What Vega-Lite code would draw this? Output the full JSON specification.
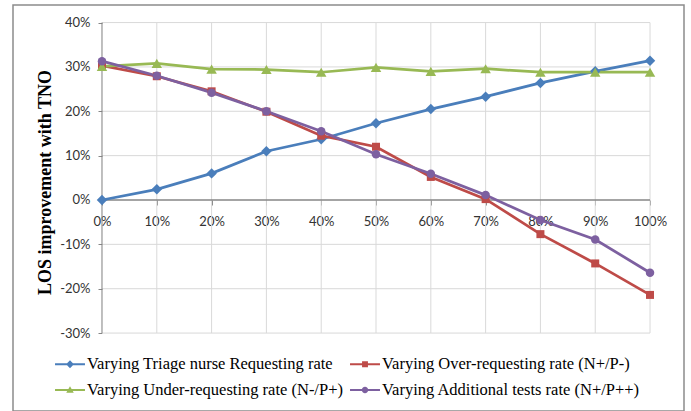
{
  "$schema": "https://vega.github.io/schema/vega-lite/v6.json",
  "autosize": {"type": "none"},
  "padding": {"left": 13, "top": 5, "right": 7, "bottom": 0},
  "width": 671,
  "height": 406,
  "background": "white",
  "config": {
    "view": {"stroke": "#8c8c8c", "strokeWidth": 1.5},
    "axis": {"labelFont": "Lato", "labelFontSize": 13, "labelColor": "#333333"}
  },
  "layer": [
    {
      "data": {"values": [{"g": 10}, {"g": 20}, {"g": 30}, {"g": 40}, {"g": 50}, {"g": 60}, {"g": 70}, {"g": 80}, {"g": 90}, {"g": 100}]},
      "mark": {"type": "rule", "color": "#d9d9d9", "strokeWidth": 1},
      "encoding": {
        "x": {"field": "g", "type": "quantitative",
          "scale": {"domain": [-16.24, 106.2], "nice": false, "zero": false},
          "axis": {"values": [0, 10, 20, 30, 40, 50, 60, 70, 80, 90, 100], "labelExpr": "datum.value + '%'", "offset": -211, "domain": false, "grid": false, "tickSize": 5, "tickColor": "#868686", "tickWidth": 1, "labelPadding": 10, "title": null}},
        "y": {"datum": -30, "type": "quantitative",
          "scale": {"domain": [-47.57, 43.96], "nice": false, "zero": false},
          "axis": {"values": [-30, -20, -10, 0, 10, 20, 30, 40], "labelExpr": "datum.value + '%'", "offset": -89, "domain": false, "grid": false, "tickSize": 4, "tickColor": "#868686", "tickWidth": 1, "labelPadding": 8, "title": "LOS improvement with TNO", "titleFont": "Liberation Serif", "titleFontWeight": "bold", "titleFontSize": 18, "titleColor": "#000000", "titleBaseline": "middle", "titleX": -57, "titleY": 177}},
        "y2": {"datum": 40}
      }
    },
    {
      "data": {"values": [{"g": -30}, {"g": -20}, {"g": -10}, {"g": 10}, {"g": 20}, {"g": 30}, {"g": 40}]},
      "mark": {"type": "rule", "color": "#d9d9d9", "strokeWidth": 1},
      "encoding": {
        "y": {"field": "g", "type": "quantitative",
          "axis": {"values": [-30, -20, -10, 0, 10, 20, 30, 40], "labelExpr": "datum.value + '%'", "offset": -89, "domain": false, "grid": false, "tickSize": 4, "tickColor": "#868686", "tickWidth": 1, "labelPadding": 8, "title": "LOS improvement with TNO", "titleFont": "Liberation Serif", "titleFontWeight": "bold", "titleFontSize": 18, "titleColor": "#000000", "titleBaseline": "middle", "titleX": -57, "titleY": 177}},
        "x": {"datum": 0, "type": "quantitative",
          "axis": {"values": [0, 10, 20, 30, 40, 50, 60, 70, 80, 90, 100], "labelExpr": "datum.value + '%'", "offset": -211, "domain": false, "grid": false, "tickSize": 5, "tickColor": "#868686", "tickWidth": 1, "labelPadding": 10, "title": null}},
        "x2": {"datum": 100}
      }
    },
    {
      "data": {"values": [{}]},
      "mark": {"type": "rule", "color": "#7f7f7f", "strokeWidth": 1},
      "encoding": {
        "x": {"datum": 0, "type": "quantitative",
          "axis": {"values": [0, 10, 20, 30, 40, 50, 60, 70, 80, 90, 100], "labelExpr": "datum.value + '%'", "offset": -211, "domain": false, "grid": false, "tickSize": 5, "tickColor": "#868686", "tickWidth": 1, "labelPadding": 10, "title": null}},
        "y": {"datum": -30, "type": "quantitative",
          "axis": {"values": [-30, -20, -10, 0, 10, 20, 30, 40], "labelExpr": "datum.value + '%'", "offset": -89, "domain": false, "grid": false, "tickSize": 4, "tickColor": "#868686", "tickWidth": 1, "labelPadding": 8, "title": "LOS improvement with TNO", "titleFont": "Liberation Serif", "titleFontWeight": "bold", "titleFontSize": 18, "titleColor": "#000000", "titleBaseline": "middle", "titleX": -57, "titleY": 177}},
        "y2": {"datum": 40}
      }
    },
    {
      "data": {"values": [{}]},
      "mark": {"type": "rule", "color": "#868686", "strokeWidth": 1.5},
      "encoding": {
        "y": {"datum": 0, "type": "quantitative",
          "axis": {"values": [-30, -20, -10, 0, 10, 20, 30, 40], "labelExpr": "datum.value + '%'", "offset": -89, "domain": false, "grid": false, "tickSize": 4, "tickColor": "#868686", "tickWidth": 1, "labelPadding": 8, "title": "LOS improvement with TNO", "titleFont": "Liberation Serif", "titleFontWeight": "bold", "titleFontSize": 18, "titleColor": "#000000", "titleBaseline": "middle", "titleX": -57, "titleY": 177}},
        "x": {"datum": 0, "type": "quantitative",
          "axis": {"values": [0, 10, 20, 30, 40, 50, 60, 70, 80, 90, 100], "labelExpr": "datum.value + '%'", "offset": -211, "domain": false, "grid": false, "tickSize": 5, "tickColor": "#868686", "tickWidth": 1, "labelPadding": 10, "title": null}},
        "x2": {"datum": 100}
      }
    },
    {
      "data": {"name": "series"},
      "mark": {"type": "line", "strokeWidth": 2.75},
      "encoding": {
        "x": {"field": "rate", "type": "quantitative",
          "axis": {"values": [0, 10, 20, 30, 40, 50, 60, 70, 80, 90, 100], "labelExpr": "datum.value + '%'", "offset": -211, "domain": false, "grid": false, "tickSize": 5, "tickColor": "#868686", "tickWidth": 1, "labelPadding": 10, "title": null}},
        "y": {"field": "los", "type": "quantitative",
          "axis": {"values": [-30, -20, -10, 0, 10, 20, 30, 40], "labelExpr": "datum.value + '%'", "offset": -89, "domain": false, "grid": false, "tickSize": 4, "tickColor": "#868686", "tickWidth": 1, "labelPadding": 8, "title": "LOS improvement with TNO", "titleFont": "Liberation Serif", "titleFontWeight": "bold", "titleFontSize": 18, "titleColor": "#000000", "titleBaseline": "middle", "titleX": -57, "titleY": 177}},
        "color": {
          "field": "series", "type": "nominal",
          "scale": {
            "domain": ["Varying Triage nurse Requesting rate", "Varying Over-requesting rate (N+/P-)", "Varying Under-requesting rate (N-/P+)", "Varying Additional tests rate (N+/P++)"],
            "range": ["#4A7EBB", "#BE4B48", "#98B954", "#7D60A0"]
          },
          "legend": {
            "title": null, "orient": "none", "legendX": 43, "legendY": 345,
            "direction": "horizontal",
            "columns": 2, "columnPadding": 7, "rowPadding": 3,
            "labelFont": "Liberation Serif", "labelFontSize": 16.5, "labelColor": "#000000",
            "labelOffset": 3, "symbolSize": 784, "labelLimit": 400,
            "encode": {
              "symbols": {
                "update": {
                  "shape": {"signal": "datum.value == 'Varying Triage nurse Requesting rate' ? 'M-1.07,-0.075L1.07,-0.075L1.07,0.075L-1.07,0.075ZM0,-0.28L0.28,0L0,0.28L-0.28,0Z' : datum.value == 'Varying Over-requesting rate (N+/P-)' ? 'M-1.07,-0.075L1.07,-0.075L1.07,0.075L-1.07,0.075ZM-0.21,-0.21L0.21,-0.21L0.21,0.21L-0.21,0.21Z' : datum.value == 'Varying Under-requesting rate (N-/P+)' ? 'M-1.07,-0.075L1.07,-0.075L1.07,0.075L-1.07,0.075ZM0,-0.27L0.27,0.2L-0.27,0.2Z' : 'M-1.07,-0.075L1.07,-0.075L1.07,0.075L-1.07,0.075ZM-0.23,0A0.23,0.23,0,1,1,0.23,0A0.23,0.23,0,1,1,-0.23,0Z'"},
                  "fill": {"scale": "color", "field": "value"},
                  "stroke": {"value": "transparent"},
                  "strokeWidth": {"value": 0},
                  "opacity": {"value": 1}
                }
              }
            }
          }
        }
      }
    },
    {
      "data": {"name": "series"},
      "transform": [{"filter": "datum.series == 'Varying Triage nurse Requesting rate'"}],
      "mark": {"type": "point", "filled": true, "opacity": 1, "shape": "diamond", "size": 110},
      "encoding": {
        "x": {"field": "rate", "type": "quantitative",
          "axis": {"values": [0, 10, 20, 30, 40, 50, 60, 70, 80, 90, 100], "labelExpr": "datum.value + '%'", "offset": -211, "domain": false, "grid": false, "tickSize": 5, "tickColor": "#868686", "tickWidth": 1, "labelPadding": 10, "title": null}},
        "y": {"field": "los", "type": "quantitative",
          "axis": {"values": [-30, -20, -10, 0, 10, 20, 30, 40], "labelExpr": "datum.value + '%'", "offset": -89, "domain": false, "grid": false, "tickSize": 4, "tickColor": "#868686", "tickWidth": 1, "labelPadding": 8, "title": "LOS improvement with TNO", "titleFont": "Liberation Serif", "titleFontWeight": "bold", "titleFontSize": 18, "titleColor": "#000000", "titleBaseline": "middle", "titleX": -57, "titleY": 177}},
        "color": {"field": "series", "type": "nominal"}
      }
    },
    {
      "data": {"name": "series"},
      "transform": [{"filter": "datum.series == 'Varying Over-requesting rate (N+/P-)'"}],
      "mark": {"type": "point", "filled": true, "opacity": 1, "shape": "square", "size": 64},
      "encoding": {
        "x": {"field": "rate", "type": "quantitative",
          "axis": {"values": [0, 10, 20, 30, 40, 50, 60, 70, 80, 90, 100], "labelExpr": "datum.value + '%'", "offset": -211, "domain": false, "grid": false, "tickSize": 5, "tickColor": "#868686", "tickWidth": 1, "labelPadding": 10, "title": null}},
        "y": {"field": "los", "type": "quantitative",
          "axis": {"values": [-30, -20, -10, 0, 10, 20, 30, 40], "labelExpr": "datum.value + '%'", "offset": -89, "domain": false, "grid": false, "tickSize": 4, "tickColor": "#868686", "tickWidth": 1, "labelPadding": 8, "title": "LOS improvement with TNO", "titleFont": "Liberation Serif", "titleFontWeight": "bold", "titleFontSize": 18, "titleColor": "#000000", "titleBaseline": "middle", "titleX": -57, "titleY": 177}},
        "color": {"field": "series", "type": "nominal"}
      }
    },
    {
      "data": {"name": "series"},
      "transform": [{"filter": "datum.series == 'Varying Under-requesting rate (N-/P+)'"}],
      "mark": {"type": "point", "filled": true, "opacity": 1, "shape": "triangle-up", "size": 110},
      "encoding": {
        "x": {"field": "rate", "type": "quantitative",
          "axis": {"values": [0, 10, 20, 30, 40, 50, 60, 70, 80, 90, 100], "labelExpr": "datum.value + '%'", "offset": -211, "domain": false, "grid": false, "tickSize": 5, "tickColor": "#868686", "tickWidth": 1, "labelPadding": 10, "title": null}},
        "y": {"field": "los", "type": "quantitative",
          "axis": {"values": [-30, -20, -10, 0, 10, 20, 30, 40], "labelExpr": "datum.value + '%'", "offset": -89, "domain": false, "grid": false, "tickSize": 4, "tickColor": "#868686", "tickWidth": 1, "labelPadding": 8, "title": "LOS improvement with TNO", "titleFont": "Liberation Serif", "titleFontWeight": "bold", "titleFontSize": 18, "titleColor": "#000000", "titleBaseline": "middle", "titleX": -57, "titleY": 177}},
        "color": {"field": "series", "type": "nominal"}
      }
    },
    {
      "data": {"name": "series"},
      "transform": [{"filter": "datum.series == 'Varying Additional tests rate (N+/P++)'"}],
      "mark": {"type": "point", "filled": true, "opacity": 1, "shape": "circle", "size": 72},
      "encoding": {
        "x": {"field": "rate", "type": "quantitative",
          "axis": {"values": [0, 10, 20, 30, 40, 50, 60, 70, 80, 90, 100], "labelExpr": "datum.value + '%'", "offset": -211, "domain": false, "grid": false, "tickSize": 5, "tickColor": "#868686", "tickWidth": 1, "labelPadding": 10, "title": null}},
        "y": {"field": "los", "type": "quantitative",
          "axis": {"values": [-30, -20, -10, 0, 10, 20, 30, 40], "labelExpr": "datum.value + '%'", "offset": -89, "domain": false, "grid": false, "tickSize": 4, "tickColor": "#868686", "tickWidth": 1, "labelPadding": 8, "title": "LOS improvement with TNO", "titleFont": "Liberation Serif", "titleFontWeight": "bold", "titleFontSize": 18, "titleColor": "#000000", "titleBaseline": "middle", "titleX": -57, "titleY": 177}},
        "color": {"field": "series", "type": "nominal"}
      }
    }
  ],
  "datasets": {
    "series": [
      {"series": "Varying Triage nurse Requesting rate", "rate": 0, "los": 0},
      {"series": "Varying Triage nurse Requesting rate", "rate": 10, "los": 2.4},
      {"series": "Varying Triage nurse Requesting rate", "rate": 20, "los": 6.0},
      {"series": "Varying Triage nurse Requesting rate", "rate": 30, "los": 11.0},
      {"series": "Varying Triage nurse Requesting rate", "rate": 40, "los": 13.7},
      {"series": "Varying Triage nurse Requesting rate", "rate": 50, "los": 17.3},
      {"series": "Varying Triage nurse Requesting rate", "rate": 60, "los": 20.5},
      {"series": "Varying Triage nurse Requesting rate", "rate": 70, "los": 23.3},
      {"series": "Varying Triage nurse Requesting rate", "rate": 80, "los": 26.4},
      {"series": "Varying Triage nurse Requesting rate", "rate": 90, "los": 29.0},
      {"series": "Varying Triage nurse Requesting rate", "rate": 100, "los": 31.4},
      {"series": "Varying Over-requesting rate (N+/P-)", "rate": 0, "los": 30.3},
      {"series": "Varying Over-requesting rate (N+/P-)", "rate": 10, "los": 27.9},
      {"series": "Varying Over-requesting rate (N+/P-)", "rate": 20, "los": 24.5},
      {"series": "Varying Over-requesting rate (N+/P-)", "rate": 30, "los": 19.9},
      {"series": "Varying Over-requesting rate (N+/P-)", "rate": 40, "los": 14.5},
      {"series": "Varying Over-requesting rate (N+/P-)", "rate": 50, "los": 12.0},
      {"series": "Varying Over-requesting rate (N+/P-)", "rate": 60, "los": 5.2},
      {"series": "Varying Over-requesting rate (N+/P-)", "rate": 70, "los": 0.2},
      {"series": "Varying Over-requesting rate (N+/P-)", "rate": 80, "los": -7.7},
      {"series": "Varying Over-requesting rate (N+/P-)", "rate": 90, "los": -14.3},
      {"series": "Varying Over-requesting rate (N+/P-)", "rate": 100, "los": -21.4},
      {"series": "Varying Under-requesting rate (N-/P+)", "rate": 0, "los": 30.1},
      {"series": "Varying Under-requesting rate (N-/P+)", "rate": 10, "los": 30.8},
      {"series": "Varying Under-requesting rate (N-/P+)", "rate": 20, "los": 29.5},
      {"series": "Varying Under-requesting rate (N-/P+)", "rate": 30, "los": 29.4},
      {"series": "Varying Under-requesting rate (N-/P+)", "rate": 40, "los": 28.8},
      {"series": "Varying Under-requesting rate (N-/P+)", "rate": 50, "los": 29.9},
      {"series": "Varying Under-requesting rate (N-/P+)", "rate": 60, "los": 29.0},
      {"series": "Varying Under-requesting rate (N-/P+)", "rate": 70, "los": 29.6},
      {"series": "Varying Under-requesting rate (N-/P+)", "rate": 80, "los": 28.8},
      {"series": "Varying Under-requesting rate (N-/P+)", "rate": 90, "los": 28.8},
      {"series": "Varying Under-requesting rate (N-/P+)", "rate": 100, "los": 28.8},
      {"series": "Varying Additional tests rate (N+/P++)", "rate": 0, "los": 31.3},
      {"series": "Varying Additional tests rate (N+/P++)", "rate": 10, "los": 28.0},
      {"series": "Varying Additional tests rate (N+/P++)", "rate": 20, "los": 24.2},
      {"series": "Varying Additional tests rate (N+/P++)", "rate": 30, "los": 20.0},
      {"series": "Varying Additional tests rate (N+/P++)", "rate": 40, "los": 15.5},
      {"series": "Varying Additional tests rate (N+/P++)", "rate": 50, "los": 10.3},
      {"series": "Varying Additional tests rate (N+/P++)", "rate": 60, "los": 5.9},
      {"series": "Varying Additional tests rate (N+/P++)", "rate": 70, "los": 1.1},
      {"series": "Varying Additional tests rate (N+/P++)", "rate": 80, "los": -4.5},
      {"series": "Varying Additional tests rate (N+/P++)", "rate": 90, "los": -8.9},
      {"series": "Varying Additional tests rate (N+/P++)", "rate": 100, "los": -16.4}
    ]
  }
}
